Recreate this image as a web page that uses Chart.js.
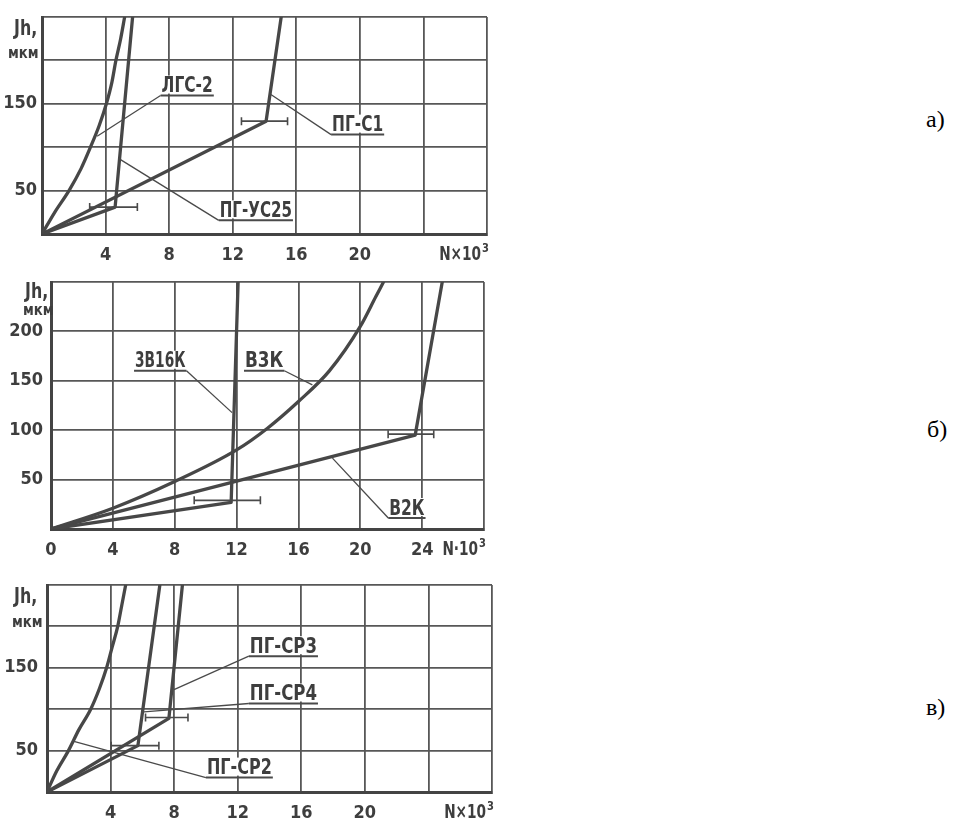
<!DOCTYPE html>
<html><head><meta charset="utf-8">
<script src="https://cdn.jsdelivr.net/npm/chart.js@4.4.1/dist/chart.umd.min.js"></script>
<style>
html,body{margin:0;padding:0;background:#fff;width:977px;height:828px;overflow:hidden;position:relative}
canvas{position:absolute;left:0}
.t{position:absolute;font-family:'DejaVu Sans Condensed','DejaVu Sans',sans-serif;font-weight:bold;color:#3e3e3e;line-height:1;white-space:nowrap;transform-origin:0 0}
.j{font-size:22px;transform:scaleX(0.8)}
.m{font-size:16px;transform:scaleX(0.92)}
.p{position:absolute;font-family:'Liberation Serif','Times New Roman',serif;font-size:24px;color:#000;line-height:1}
</style></head><body>
<canvas id="ca" width="520" height="270" style="top:0px"></canvas>
<canvas id="cb" width="520" height="302" style="top:268px"></canvas>
<canvas id="cc" width="520" height="258" style="top:570px"></canvas>
<div class="t j" style="left:14px;top:17px">Jh,</div>
<div class="t m" style="left:8px;top:45px">мкм</div>
<div class="t j" style="left:25px;top:280px">Jh,</div>
<div class="t m" style="left:23px;top:302px">мкм</div>
<div class="t j" style="left:14px;top:585px">Jh,</div>
<div class="t m" style="left:12px;top:614px">мкм</div>
<div class="p" style="left:926px;top:107px">а)</div>
<div class="p" style="left:927px;top:417px">б)</div>
<div class="p" style="left:926px;top:695px">в)</div>
<script>
// ---------- axes ----------
const xTicks = [0, 4, 8, 12, 16, 20, 24, 28];
const yTicks = [0, 50, 100, 150, 200, 250];
const xTickLabelsAC = ['', '4', '8', '12', '16', '20', '', ''];
const xTickLabelsB = ['0', '4', '8', '12', '16', '20', '24', ''];
const yTickLabelsAC = ['', '50', '', '150', '', ''];
const yTickLabelsB = ['', '50', '100', '150', '200', ''];
const xUnitAC = ['N×10', '3'];
const xUnitB = ['N·10', '3'];

// ---------- panel а) ----------
const aLgsX = [0, 0.8, 1.7, 2.45, 3.05, 3.6, 4.05, 4.4, 4.65, 4.95, 5.2];
const aLgsY = [0, 25, 50, 75, 100, 125, 150, 175, 200, 225, 250];
const aUsX = [0, 4.6, 5.7];
const aUsY = [0, 31, 250];
const aS1X = [0, 14.1, 15.05];
const aS1Y = [0, 130, 250];
// error bars: y, xmin, xmax
const aErrY = [31, 130];
const aErrMin = [3.0, 12.55];
const aErrMax = [6.0, 15.45];
// labels
const aLabText = ['ЛГС-2', 'ПГ-С1', 'ПГ-УС25'];
const aLabX1 = [7.46, 18.19, 11.12];
const aLabX2 = [10.81, 21.53, 15.79];
const aLabY = [159.5, 114.5, 15.7];
const aLeadFromX = [7.46, 18.19, 11.12];
const aLeadToX = [3.47, 14.4, 4.94];
const aLeadToY = [112.6, 160.7, 85.7];

// ---------- panel б) ----------
const b3vX = [0, 11.65, 12.1];
const b3vY = [0, 27, 250];
const bV3X = [0, 4, 8, 12, 14, 16, 18, 20, 21, 21.5];
const bV3Y = [0, 21, 48, 80, 102, 129, 160, 205, 235, 250];
const bV2X = [0, 23.55, 25.3];
const bV2Y = [0, 95, 250];
const bErrY = [29, 96];
const bErrMin = [9.26, 21.8];
const bErrMax = [13.54, 24.75];
const bLabText = ['3В16К', 'В3К', 'В2К'];
const bLabX1 = [5.37, 12.48, 21.81];
const bLabX2 = [8.76, 15.09, 24.22];
const bLabY = [160.2, 160.2, 11.1];
const bLeadFromX = [8.76, 15.09, 21.81];
const bLeadToX = [11.71, 16.9, 18.2];
const bLeadToY = [117.8, 145.8, 71.7];

// ---------- panel в) ----------
const cP2X = [0, 0.6, 1.35, 2.0, 2.75, 3.3, 3.75, 4.1, 4.45, 4.7, 4.95];
const cP2Y = [0, 25, 50, 75, 100, 125, 150, 175, 200, 225, 250];
const cP4X = [0, 5.72, 7.1];
const cP4Y = [0, 56, 250];
const cP3X = [0, 7.67, 8.52];
const cP3Y = [0, 89, 250];
const cErrY = [56, 90];
const cErrMin = [4.04, 6.2];
const cErrMax = [7.04, 8.87];
const cLabText = ['ПГ-СР3', 'ПГ-СР4', 'ПГ-СР2'];
const cLabX1 = [12.7, 12.7, 10.0];
const cLabX2 = [17.05, 17.05, 14.21];
const cLabY = [164, 106.9, 17.4];
const cLeadFromX = [12.7, 12.7, 10.0];
const cLeadToX = [7.99, 6.1, 1.58];
const cLeadToY = [123.7, 96.7, 61.7];

// ---------- styling ----------
function hasFont(f) {
  const c = document.createElement('canvas').getContext('2d');
  const s = 'ПГ-С1 150 abcWm';
  c.font = '20px monospace'; const a = c.measureText(s).width;
  c.font = "20px '" + f + "', monospace"; return Math.abs(c.measureText(s).width - a) > 0.5;
}
const NARROW = hasFont('Liberation Sans Narrow');
const FONT = NARROW ? "'Liberation Sans Narrow', sans-serif" : "'DejaVu Sans Condensed','DejaVu Sans', sans-serif";
const TICK_SIZE = NARROW ? 20 : 18;
const INK = '#3e3e3e';
const GRID = '#575757';
const CURVE = '#474747';

function pts(xs, ys) { return xs.map((x, i) => ({x: x, y: ys[i]})); }
function curve(xs, ys, smooth) {
  return {data: pts(xs, ys), showLine: true, borderColor: CURVE, borderWidth: 3.3,
    pointRadius: 0, tension: smooth ? 0.4 : 0, cubicInterpolationMode: smooth ? 'monotone' : 'default',
    borderCapStyle: 'round', borderJoinStyle: 'round'};
}

function squeezedText(ctx, t, x, y, maxW, align) {
  const w = ctx.measureText(t).width;
  const sx = Math.min(1, maxW / w);
  ctx.save();
  ctx.translate(x, y);
  ctx.scale(sx, 1);
  ctx.textAlign = 'left';
  const off = align === 'center' ? -w / 2 : (align === 'right' ? -w : 0);
  ctx.fillText(t, off, 0);
  ctx.restore();
  return w * sx;
}

const annotPlugin = {
  id: 'annot',
  afterDatasetsDraw(chart, args, o) {
    const ctx = chart.ctx, xs = chart.scales.x, ys = chart.scales.y, ca = chart.chartArea;
    ctx.save();
    // error bars
    ctx.strokeStyle = '#4a4a4a'; ctx.lineWidth = 1.6;
    o.errY.forEach((y, i) => {
      const py = ys.getPixelForValue(y), x1 = xs.getPixelForValue(o.errMin[i]), x2 = xs.getPixelForValue(o.errMax[i]);
      ctx.beginPath();
      ctx.moveTo(x1, py); ctx.lineTo(x2, py);
      ctx.moveTo(x1, py - 4); ctx.lineTo(x1, py + 4);
      ctx.moveTo(x2, py - 4); ctx.lineTo(x2, py + 4);
      ctx.stroke();
    });
    // labels with underline and leader
    ctx.font = 'bold 21px ' + FONT;
    ctx.textBaseline = 'alphabetic';
    o.labText.forEach((t, i) => {
      const ux1 = xs.getPixelForValue(o.labX1[i]), ux2 = xs.getPixelForValue(o.labX2[i]), uy = ys.getPixelForValue(o.labY[i]);
      ctx.fillStyle = '#fff';
      ctx.fillRect(ux1, uy - 20, ux2 - ux1, 18);
      ctx.fillStyle = INK;
      squeezedText(ctx, t, (ux1 + ux2) / 2, uy - 3.5, ux2 - ux1 - 2, 'center');
      ctx.strokeStyle = '#4a4a4a'; ctx.lineWidth = 2;
      ctx.beginPath(); ctx.moveTo(ux1, uy); ctx.lineTo(ux2, uy); ctx.stroke();
      ctx.lineWidth = 1.3;
      ctx.beginPath();
      ctx.moveTo(xs.getPixelForValue(o.leadFromX[i]), uy);
      ctx.lineTo(xs.getPixelForValue(o.leadToX[i]), ys.getPixelForValue(o.leadToY[i]));
      ctx.stroke();
    });
    // x unit: N×10³ right-aligned at the last grid line
    ctx.fillStyle = INK;
    ctx.font = 'bold 13px ' + FONT;
    const supW = ctx.measureText(o.unit[1]).width * 0.85;
    const yb = ca.bottom + 11 + TICK_SIZE * 0.82;
    squeezedText(ctx, o.unit[1], ca.right + 2 - supW, yb - 8, supW, 'left');
    ctx.font = 'bold ' + (TICK_SIZE + 1) + 'px ' + FONT;
    const mw = ctx.measureText(o.unit[0]).width * 0.8;
    squeezedText(ctx, o.unit[0], ca.right + 1 - supW - mw, yb, mw, 'left');
    ctx.restore();
  }
};

function panel(id, datasets, o) {
  const tickFont = {family: FONT, size: TICK_SIZE, weight: 'bold'};
  return new Chart(document.getElementById(id), {
    type: 'scatter',
    data: {datasets: datasets},
    options: {
      responsive: false, animation: false, events: [],
      layout: {padding: {top: o.padTop, right: o.padRight, left: 0, bottom: 0}},
      plugins: {legend: {display: false}, tooltip: {enabled: false}, annot: o.annot},
      scales: {
        x: {type: 'linear', min: 0, max: 28,
          afterBuildTicks: s => { s.ticks = xTicks.map(v => ({value: v})); },
          afterFit: s => { s.height = o.xH; s.paddingLeft = 0; s.paddingRight = 0; },
          ticks: {padding: 11, color: INK, font: tickFont, autoSkip: false, maxRotation: 0,
            callback: (v, i) => o.xLabels[i]},
          grid: {color: GRID, lineWidth: 1.8, drawTicks: false},
          border: {color: '#444', width: 3}},
        y: {type: 'linear', min: 0, max: 250,
          afterBuildTicks: s => { s.ticks = yTicks.map(v => ({value: v})); },
          afterFit: s => { s.width = o.yW; s.paddingTop = 0; s.paddingBottom = 0; },
          ticks: {padding: o.yPad, color: INK, font: tickFont, autoSkip: false,
            callback: (v, i) => o.yLabels[i]},
          grid: {color: GRID, lineWidth: 1.8, drawTicks: false},
          border: {color: '#444', width: 3}}
      }
    },
    plugins: [annotPlugin]
  });
}

panel('ca', [curve(aLgsX, aLgsY, true), curve(aUsX, aUsY, false), curve(aS1X, aS1Y, false)], {
  padTop: 17, padRight: 33, xH: 36, yW: 42, yPad: 5, xLabels: xTickLabelsAC, yLabels: yTickLabelsAC,
  annot: {errY: aErrY, errMin: aErrMin, errMax: aErrMax, labText: aLabText, labX1: aLabX1, labX2: aLabX2, labY: aLabY,
    leadFromX: aLeadFromX, leadToX: aLeadToX, leadToY: aLeadToY, unit: xUnitAC}
});
panel('cb', [curve(b3vX, b3vY, false), curve(bV3X, bV3Y, true), curve(bV2X, bV2Y, false)], {
  padTop: 14, padRight: 36, xH: 41, yW: 51, yPad: 8, xLabels: xTickLabelsB, yLabels: yTickLabelsB,
  annot: {errY: bErrY, errMin: bErrMin, errMax: bErrMax, labText: bLabText, labX1: bLabX1, labX2: bLabX2, labY: bLabY,
    leadFromX: bLeadFromX, leadToX: bLeadToX, leadToY: bLeadToY, unit: xUnitB}
});
panel('cc', [curve(cP2X, cP2Y, true), curve(cP4X, cP4Y, false), curve(cP3X, cP3Y, false)], {
  padTop: 15, padRight: 28, xH: 36, yW: 47, yPad: 9, xLabels: xTickLabelsAC, yLabels: yTickLabelsAC,
  annot: {errY: cErrY, errMin: cErrMin, errMax: cErrMax, labText: cLabText, labX1: cLabX1, labX2: cLabX2, labY: cLabY,
    leadFromX: cLeadFromX, leadToX: cLeadToX, leadToY: cLeadToY, unit: xUnitAC}
});
</script>
</body></html>
